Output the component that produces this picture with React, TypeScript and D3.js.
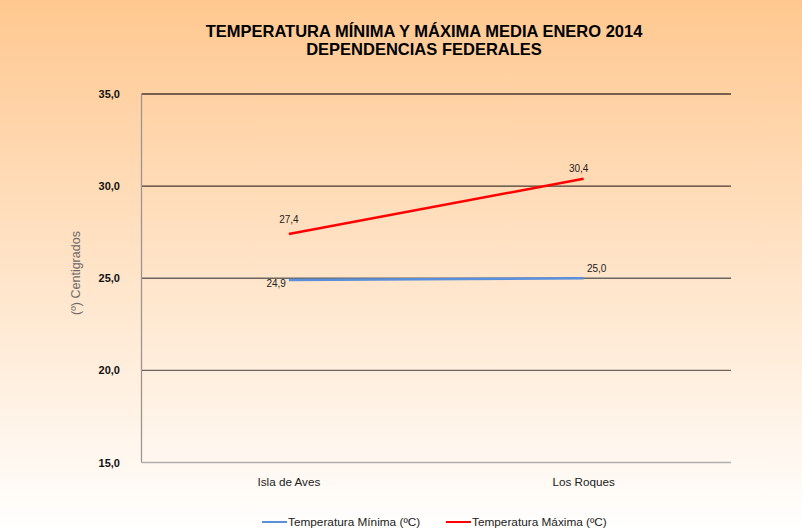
import * as d3 from "d3";
import { useEffect, useRef } from "react";

const categories = ["Isla de Aves", "Los Roques"];
const tempMin = [24.9, 25.0];
const tempMax = [27.4, 30.4];
const yTicks = [15, 20, 25, 30, 35];
const seriesNames = ["Temperatura  Mínima (ºC)", "Temperatura  Máxima (ºC)"];

const fmt = (v: number) => v.toFixed(1).replace(".", ",");

const App = () => {
    const svgRef = useRef<SVGSVGElement>(null);

    useEffect(() => {
        const svg = d3.select(svgRef.current);
        const width = 802;
        const height = 532;
        const margin = { top: 94, right: 71, bottom: 70, left: 141.5 };
        const font = "Arial, 'Liberation Sans', sans-serif";

        svg.selectAll("*").remove();

        const grad = svg.append("defs")
            .append("linearGradient")
            .attr("id", "bg-grad")
            .attr("x1", 0).attr("y1", 0).attr("x2", 0).attr("y2", 1);
        grad.append("stop").attr("offset", "0%").attr("stop-color", "#FFC890");
        grad.append("stop").attr("offset", "100%").attr("stop-color", "#FFFFFF");

        svg.append("rect")
            .attr("width", width)
            .attr("height", height)
            .attr("fill", "url(#bg-grad)");

        const x = d3.scaleBand()
            .domain(categories)
            .range([margin.left, width - margin.right]);

        const y = d3.scaleLinear()
            .domain([15, 35])
            .range([height - margin.bottom + 0.5, margin.top]);

        // gridlines
        svg.append("g")
            .selectAll("line")
            .data(yTicks.slice(1))
            .join("line")
            .attr("x1", margin.left)
            .attr("x2", width - margin.right)
            .attr("y1", d => y(d))
            .attr("y2", d => y(d))
            .attr("stroke", d => (d >= 30 ? "#4a3a30" : "#6b6560"))
            .attr("stroke-width", 1.3);

        // axes
        svg.append("line")
            .attr("x1", margin.left).attr("x2", margin.left)
            .attr("y1", margin.top).attr("y2", y(15))
            .attr("stroke", "#9a9590").attr("stroke-width", 1.3);
        svg.append("line")
            .attr("x1", margin.left).attr("x2", width - margin.right)
            .attr("y1", y(15)).attr("y2", y(15))
            .attr("stroke", "#b0aeac").attr("stroke-width", 1.3);

        // y tick labels
        svg.append("g")
            .selectAll("text")
            .data(yTicks)
            .join("text")
            .attr("x", 120)
            .attr("y", d => y(d) + 4)
            .attr("text-anchor", "end")
            .attr("font-family", font)
            .attr("font-size", 11)
            .attr("font-weight", "bold")
            .attr("fill", "#111")
            .text(d => fmt(d));

        svg.append("text")
            .attr("transform", `translate(80,273) rotate(-90)`)
            .attr("text-anchor", "middle")
            .attr("font-family", font)
            .attr("font-size", 12.5)
            .attr("fill", "#6d6a68")
            .text("(º) Centigrados");

        // x labels
        svg.append("g")
            .selectAll("text")
            .data(categories)
            .join("text")
            .attr("x", d => x(d)! + x.bandwidth() / 2)
            .attr("y", 486)
            .attr("text-anchor", "middle")
            .attr("font-family", font)
            .attr("font-size", 11.7)
            .attr("fill", "#222")
            .text(d => d);

        const cx = (i: number) => x(categories[i])! + x.bandwidth() / 2;
        const line = d3.line<number>()
            .x((_, i) => cx(i))
            .y(d => y(d));

        svg.append("path")
            .datum(tempMin)
            .attr("fill", "none")
            .attr("stroke", "#5A8FDB")
            .attr("stroke-width", 2.5)
            .attr("d", line);

        svg.append("path")
            .datum(tempMax)
            .attr("fill", "none")
            .attr("stroke", "#FF0000")
            .attr("stroke-width", 2.5)
            .attr("d", line);

        const label = (px: number, py: number, t: string, anchor = "middle") =>
            svg.append("text")
                .attr("x", px)
                .attr("y", py)
                .attr("text-anchor", anchor)
                .attr("font-family", font)
                .attr("font-size", 10)
                .attr("fill", "#222")
                .text(t);

        label(cx(0), y(tempMax[0]) - 11, fmt(tempMax[0]));
        label(cx(1) - 5, y(tempMax[1]) - 7, fmt(tempMax[1]));
        label(cx(0) - 3, y(tempMin[0]) + 7, fmt(tempMin[0]), "end");
        label(cx(1) + 13, y(tempMin[1]) - 6, fmt(tempMin[1]));

        // title
        const title = svg.append("text")
            .attr("text-anchor", "middle")
            .attr("font-family", font)
            .attr("font-size", 16.5)
            .attr("font-weight", "bold")
            .attr("letter-spacing", 0)
            .attr("fill", "#000");
        title.append("tspan").attr("x", 424).attr("y", 37).text("TEMPERATURA MÍNIMA Y MÁXIMA MEDIA ENERO 2014");
        title.append("tspan").attr("x", 424).attr("y", 55).text("DEPENDENCIAS FEDERALES");

        // legend
        const legend = [
            { name: seriesNames[0], color: "#5A8FDB", x0: 262 },
            { name: seriesNames[1], color: "#FF0000", x0: 446 },
        ];
        const lg = svg.append("g")
            .selectAll("g")
            .data(legend)
            .join("g");
        lg.append("line")
            .attr("x1", d => d.x0).attr("x2", d => d.x0 + 25)
            .attr("y1", 522).attr("y2", 522)
            .attr("stroke", d => d.color)
            .attr("stroke-width", 2);
        lg.append("text")
            .attr("x", d => d.x0 + 26)
            .attr("y", 526)
            .attr("font-family", font)
            .attr("font-size", 11.8)
            .attr("fill", "#222")
            .text(d => d.name);
    }, []);

    return <svg ref={svgRef} width={802} height={532} style={{ position: "absolute", left: 0, top: 0 }} />;
};

export default App;
